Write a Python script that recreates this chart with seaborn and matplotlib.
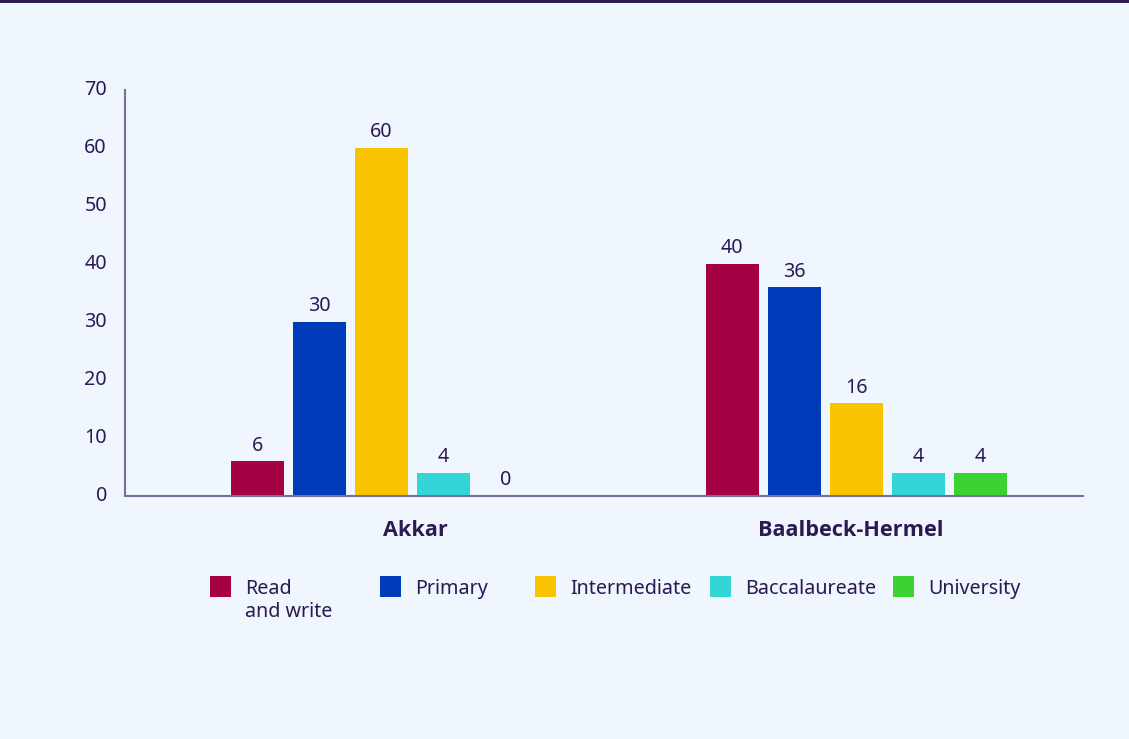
import matplotlib
matplotlib.use("Agg")
import matplotlib.pyplot as plt
import matplotlib.patches as mpatches
import matplotlib.transforms as mtransforms
from matplotlib import font_manager
import seaborn as sns
import pandas as pd

# Data
regions = ["Akkar", "Baalbeck-Hermel"]
levels = ["Read\nand write", "Primary", "Intermediate", "Baccalaureate", "University"]
akkar_values = [6, 30, 60, 4, 0]
baalbeck_values = [40, 36, 16, 4, 4]
level_colors = ["#A50044", "#003CBA", "#FAC300", "#32D6D6", "#3DD232"]
y_ticks = [0, 10, 20, 30, 40, 50, 60, 70]

bg = "#EFF6FE"
ink = "#2B1A52"
spine_color = "#7A6D98"

records = []
for region, vals in zip(regions, [akkar_values, baalbeck_values]):
    for level, v in zip(levels, vals):
        records.append({"region": region, "level": level, "value": v})
df = pd.DataFrame(records)

sns.set_style("white")
plt.rcParams["font.family"] = ["Noto Sans", "DejaVu Sans"]

# pick a bold face for the region labels
bold_family = "Noto Sans"
names_bold = {f.name for f in font_manager.fontManager.ttflist
              if f.weight in (700, "bold")}
for cand in ["Noto Sans", "Open Sans", "Lato", "Roboto", "DejaVu Sans"]:
    if cand in names_bold:
        bold_family = cand
        break

W, H = 1129, 739
fig = plt.figure(figsize=(W / 100, H / 100), dpi=100, facecolor=bg)
ax = fig.add_axes([125 / W, 1 - 496 / H, (1083 - 125) / W, (496 - 90) / H])
ax.set_facecolor(bg)

sns.barplot(data=df, x="region", y="value", hue="level", hue_order=levels,
            order=regions, palette=level_colors, width=0.653, gap=0.145,
            saturation=1, legend=False, linewidth=0, ax=ax)

fs = 14.2
for cont in ax.containers:
    ax.bar_label(cont, fmt="%g", padding=4, fontsize=fs, color=ink)

ax.set_ylim(0, 70)
ax.set_xlim(-0.54, 1.477)
ax.set_yticks(y_ticks)
ax.set_yticklabels([str(t) for t in y_ticks], fontsize=fs, color=ink)
ax.set_xticks(range(len(regions)))
ax.set_xticklabels(regions, fontsize=15.6, color=ink, fontweight="bold",
                   family=[bold_family, "DejaVu Sans"])
ax.set_xlabel("")
ax.set_ylabel("")
ax.tick_params(axis="y", length=0, pad=13)
ax.tick_params(axis="x", length=0, pad=17)
# Shift the region labels sideways
shifts = [34, -6]
for lbl, dx in zip(ax.get_xticklabels(), shifts):
    lbl.set_transform(lbl.get_transform() +
                      mtransforms.ScaledTranslation(dx / 100, 0, fig.dpi_scale_trans))
# Nudge the value-axis labels up slightly
for lbl in ax.get_yticklabels():
    lbl.set_transform(lbl.get_transform() +
                      mtransforms.ScaledTranslation(0, 2.5 / 100, fig.dpi_scale_trans))

for side in ["top", "right"]:
    ax.spines[side].set_visible(False)
for side in ["left", "bottom"]:
    ax.spines[side].set_color(spine_color)
    ax.spines[side].set_linewidth(1.5)

# Legend drawn as a row of swatches with labels
legend_x = [210, 380, 535, 710, 893]
sw = 21
for x0, lab, col in zip(legend_x, levels, level_colors):
    fig.add_artist(mpatches.Rectangle((x0 / W, 1 - 597 / H), sw / W, sw / H,
                                      transform=fig.transFigure, color=col, lw=0))
    fig.text((x0 + sw + 14) / W, 1 - 579 / H, lab, fontsize=fs, color=ink,
             va="top", ha="left", linespacing=1.2)

# Dark band along the top edge
fig.add_artist(mpatches.Rectangle((0, 1 - 3 / H), 1, 3 / H,
                                  transform=fig.transFigure, color="#2E1A52", lw=0))

fig.savefig("out.png", dpi=100, facecolor=bg)
